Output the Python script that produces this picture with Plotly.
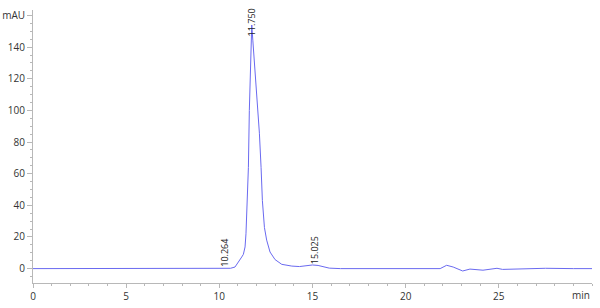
import plotly.graph_objects as go

# Retention time (min) and detector signal (mAU)
time_min = [0, 2, 4, 6, 8, 10, 10.264, 10.6, 10.84, 11.0, 11.11, 11.2, 11.29, 11.38,
            11.43, 11.5, 11.56, 11.61, 11.68, 11.74, 11.8, 11.9, 12.04, 12.15, 12.24,
            12.31, 12.42, 12.54, 12.72, 12.99, 13.35, 13.89, 14.3, 14.6, 15.0, 15.3,
            15.6, 15.9, 16.5, 18, 20, 21.85, 22.2, 22.55, 23.06, 23.45, 24.15, 24.9,
            25.2, 26, 27.5, 29, 30]
signal_mau = [0, 0, 0, 0, 0, 0, 0.1, 0.2, 1.0, 3.5, 5.7, 7.3, 9.0, 13.7,
              22, 43, 64, 100, 135, 154, 144, 128, 106, 85.6, 64,
              43, 26, 18, 10.5, 5.7, 2.7, 1.6, 1.3, 1.6, 2.3, 2.0,
              1.0, 0.3, 0.0, 0, 0, 0, 2.1, 1.0, -1.5, -0.3, -1.0, 0.2,
              -0.5, -0.2, 0.2, 0, 0]

peak_times = [10.264, 11.750, 15.025]
peak_labels = ["10.264", "11.750", "15.025"]
label_x = [10.3, 11.74, 15.08]
label_y = [10, 155.5, 11.6]

y_tickvals = [0, 20, 40, 60, 80, 100, 120, 140, 160]
y_ticktext = ["0", "20", "40", "60", "80", "100", "120", "140", "mAU"]
x_tickvals = [0, 5, 10, 15, 20, 25]
x_ticktext = ["0", "5", "10", "15", "20", "25"]

fig = go.Figure()
fig.add_trace(go.Scatter(x=time_min, y=signal_mau, mode="lines",
                         line=dict(color="#6a6af0", width=1), hoverinfo="skip",
                         cliponaxis=False))

for lx, ly, txt in zip(label_x, label_y, peak_labels):
    fig.add_annotation(x=lx, y=ly, text=txt, textangle=-90, showarrow=False,
                       xanchor="center", yanchor="middle",
                       font=dict(family="Open Sans", size=9, color="#222222"))

fig.add_annotation(x=30, y=0, xref="x", yref="paper", text="min", showarrow=False,
                   xanchor="right", yanchor="top", yshift=-3,
                   font=dict(family="Open Sans", size=10, color="#333333"))

axis_color = "#b8b8b8"
fig.update_xaxes(range=[0, 30], showline=True, linecolor=axis_color, linewidth=1,
                 showgrid=False, zeroline=False, tickmode="array", automargin=False,
                 tickvals=x_tickvals, ticktext=x_ticktext, ticks="outside",
                 ticklen=4, tickcolor=axis_color,
                 tickfont=dict(family="Open Sans", size=10, color="#333333"),
                 minor=dict(tickmode="linear", tick0=0, dtick=1, ticks="outside",
                            ticklen=2, tickcolor=axis_color))
fig.update_yaxes(range=[-9.1, 163.5], showline=True, linecolor=axis_color, linewidth=1,
                 showgrid=False, zeroline=False, tickmode="array", automargin=False,
                 tickvals=y_tickvals, ticktext=y_ticktext, ticks="outside",
                 ticklen=5, tickcolor=axis_color,
                 tickfont=dict(family="Open Sans", size=10, color="#333333"),
                 minor=dict(tickmode="linear", tick0=0, dtick=5, ticks="outside",
                            ticklen=2, tickcolor=axis_color))

fig.update_layout(width=600, height=308, margin=dict(l=33, r=8, t=10, b=25),
                  plot_bgcolor="white", paper_bgcolor="white", showlegend=False)

fig.write_html("out.html")
